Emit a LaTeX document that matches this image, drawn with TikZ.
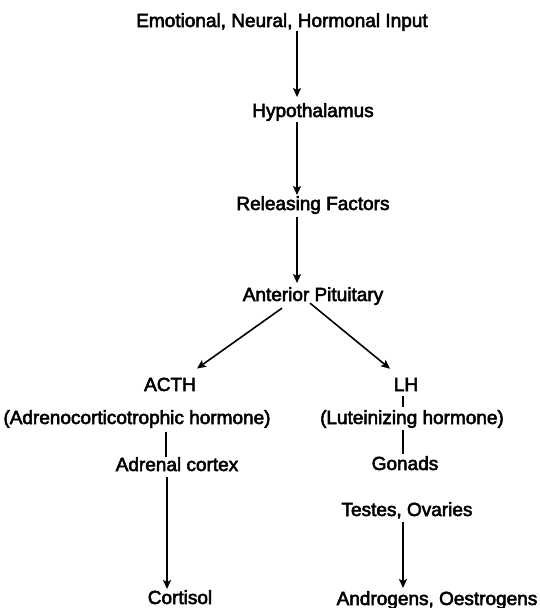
\documentclass[tikz,border=0pt]{standalone}
\usepackage{fontspec}
\setmainfont{Liberation Sans}
\usetikzlibrary{arrows.meta,calc}
\newcommand\heavytxt[1]{\special{pdf:literal direct 2 Tr 0.55 w}#1\special{pdf:literal direct 0 Tr}}
\begin{document}
\begin{tikzpicture}[x=1pt,y=-1pt,
  lbl/.style={anchor=base,inner sep=0pt,font=\fontsize{19}{22}\selectfont},
  arr/.style={line width=1.6pt,-{Stealth[length=9pt,width=8pt,inset=2pt]}},
  plain/.style={line width=1.3pt}]
\useasboundingbox (0,0) rectangle (539,608);
\coordinate (spine) at (297,0);
\coordinate (lcol) at (166,0);
\coordinate (rcol) at (403,0);
\node[lbl] (top) at (282,27) {\heavytxt{Emotional, Neural, Hormonal Input}};
\node[lbl] (hyp) at (313,117) {\heavytxt{Hypothalamus}};
\node[lbl] (rf) at (313,210) {\heavytxt{Releasing Factors}};
\node[lbl] (ap) at (313,301) {\heavytxt{Anterior Pituitary}};
\node[lbl] (acth) at (170,391) {\heavytxt{ACTH}};
\node[lbl] (lh) at (406,391) {\heavytxt{LH}};
\node[lbl] (acthp) at (137,424) {\heavytxt{(Adrenocorticotrophic hormone)}};
\node[lbl] (lhp) at (412,424) {\heavytxt{(Luteinizing hormone)}};
\node[lbl] (adr) at (177,471) {\heavytxt{Adrenal cortex}};
\node[lbl] (gon) at (405,470) {\heavytxt{Gonads}};
\node[lbl] (tes) at (407,516) {\heavytxt{Testes, Ovaries}};
\node[lbl] (cort) at (180,604) {\heavytxt{Cortisol}};
\node[lbl] (andr) at (437,605) {\heavytxt{Androgens, Oestrogens}};
% spine
\draw[arr,shorten >=6pt] (top.south -| spine) -- (hyp.north -| spine);
\draw[arr,shorten <=1pt,shorten >=1pt] (hyp.south -| spine) -- (rf.north -| spine);
\draw[arr,shorten <=3pt,shorten >=4pt] (rf.south -| spine) -- (ap.north -| spine);
% branches
\draw[arr] ($(ap.south)+(-31,3)$) -- ($(acth.north)+(27,-9)$);
\draw[arr] ($(ap.south)+(-3,-2)$) -- ($(lh.north)+(-16,-9)$);
% LH column
\draw[plain,shorten <=5pt,shorten >=3pt] (lh.south -| rcol) -- (lhp.north -| rcol);
\draw[plain,shorten <=2pt,shorten >=2pt] (lhp.south -| rcol) -- (gon.north -| rcol);
\draw[arr,shorten <=3pt,shorten >=3pt] (tes.south -| rcol) -- (andr.north -| rcol);
% ACTH column
\draw[plain,shorten <=4pt] (acthp.south -| lcol) -- (adr.north -| lcol);
\draw[arr,shorten <=6pt,shorten >=1pt] ($(adr.south -| lcol)+(1,0)$) -- ($(cort.north -| lcol)+(1,0)$);
\end{tikzpicture}
\end{document}
